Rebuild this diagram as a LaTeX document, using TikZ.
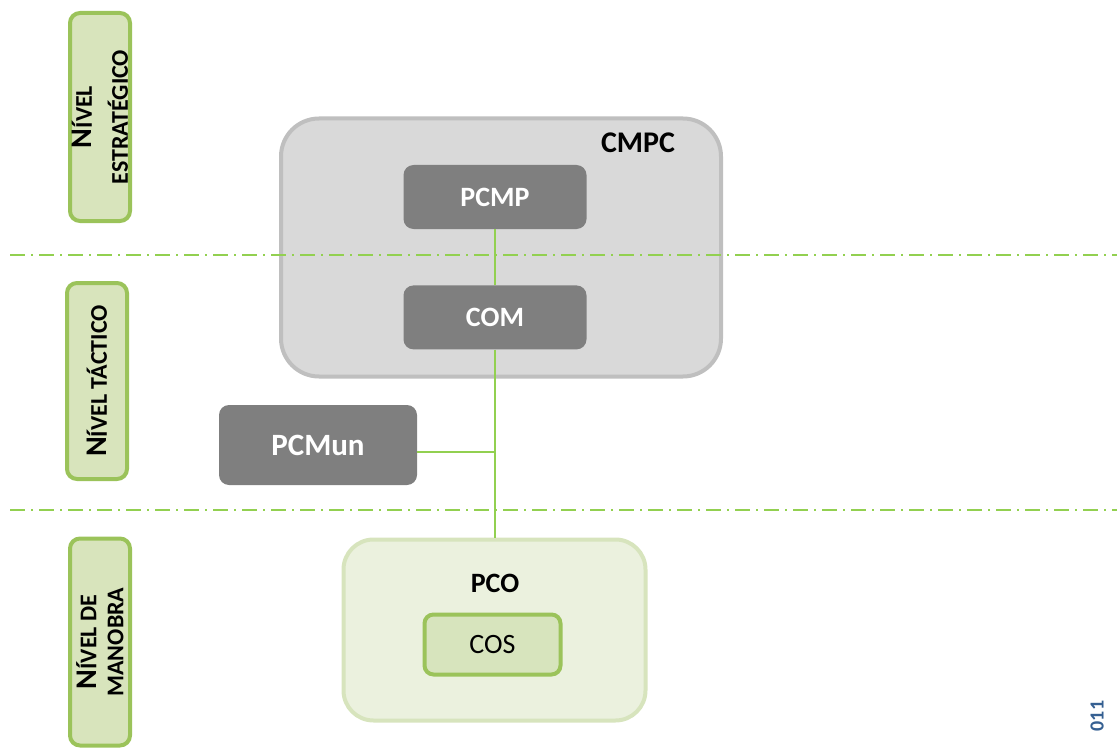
\documentclass[tikz,border=0pt]{standalone}
\usepackage{fontspec}
\setmainfont{Carlito}
\usepackage{tikz}
\usetikzlibrary{positioning}

\definecolor{lvlfill}{RGB}{216,228,188}
\definecolor{lvldraw}{RGB}{155,195,90}
\definecolor{sepgreen}{RGB}{146,208,80}
\definecolor{cmpcfill}{RGB}{217,217,217}
\definecolor{cmpcdraw}{RGB}{191,191,191}
\definecolor{pcfill}{RGB}{127,127,127}
\definecolor{pcofill}{RGB}{235,241,222}
\definecolor{pcodraw}{RGB}{215,228,189}
\definecolor{yearblue}{RGB}{54,96,146}

\newcommand{\capN}{\fontsize{30}{30}\selectfont}

\begin{document}
\begin{tikzpicture}[x=1pt,y=-1pt,
    level/.style={draw=lvldraw,fill=lvlfill,line width=4pt,rounded corners=10pt,
      minimum height=60pt,inner sep=0pt,rotate=90,align=center,font=\bfseries},
    group/.style={draw=cmpcdraw,fill=cmpcfill,line width=4pt,rounded corners=38pt,inner sep=0pt},
    post/.style={fill=pcfill,rounded corners=10pt,minimum width=183pt,minimum height=64pt,
      inner sep=0pt,text=white,font=\fontsize{28}{32}\selectfont\bfseries},
    sep/.style={draw=sepgreen,line width=2.5pt,dash pattern=on 15pt off 6pt on 2pt off 6pt},
    link/.style={draw=sepgreen,line width=2pt}]
  \useasboundingbox (0,0) rectangle (1117,749);

  % level boxes on the left
  \node[level,minimum width=208pt,font=\bfseries\fontsize{24}{36}\selectfont] (lvlS) at (100,117)
    {{\capN N}ÍVEL\\ESTRATÉGICO};
  \node[level,minimum width=196pt,font=\bfseries\fontsize{24}{27}\selectfont] (lvlT) at (97,381)
    {{\capN N}ÍVEL TÁCTICO};
  \node[level,minimum width=207pt,font=\bfseries\fontsize{24}{27}\selectfont] (lvlM) at (100,642)
    {{\capN N}ÍVEL DE\\MANOBRA};

  % command posts
  \node[group,minimum width=440pt,minimum height=258pt] (CMPC) at (501,247.5) {};
  \node[font=\fontsize{30}{34}\selectfont\bfseries] (CMPClbl) at (638,143) {CMPC};
  \node[post] (PCMP) at (495,197) {PCMP};
  \node[post] (COM) [below=56pt of PCMP] {COM};
  \node[post,minimum width=198pt,minimum height=80pt,font=\fontsize{31}{34}\selectfont\bfseries]
    (PCMun) at (318,445) {PCMun};
  \node[draw=pcodraw,fill=pcofill,line width=4pt,rounded corners=30pt,inner sep=0pt,
    minimum width=302pt,minimum height=181pt] (PCO) at (494.5,630) {};
  \node[font=\fontsize{28}{32}\selectfont\bfseries] (PCOlbl) at (495,583) {PCO};
  \node[draw=lvldraw,fill=pcodraw,line width=4pt,rounded corners=9pt,inner sep=0pt,
    minimum width=136pt,minimum height=60pt,font=\fontsize{28}{32}\selectfont] (COS) at (492.5,644.5) {COS};

  \node[rotate=90,text=yearblue,font=\fontsize{20}{24}\selectfont\bfseries] (year) at (1097,716) {011};

  % separators between levels
  \coordinate (s1a) at (10,255);
  \coordinate (s1b) at (1117,255);
  \coordinate (s2a) at (10,510);
  \coordinate (s2b) at (1117,510);
  \path[sep] (s1a) -- (s1b);
  \path[sep] (s2a) -- (s2b);

  % links
  \coordinate (j) at (495,452);
  \path[link]
    (PCMP.south) -- (COM.south |- PCMP.south) -- (COM.north)
    (COM.south) -- (COM.south |- PCO.north)
    (j -| PCMun.east) -- (j);
\end{tikzpicture}
\end{document}
